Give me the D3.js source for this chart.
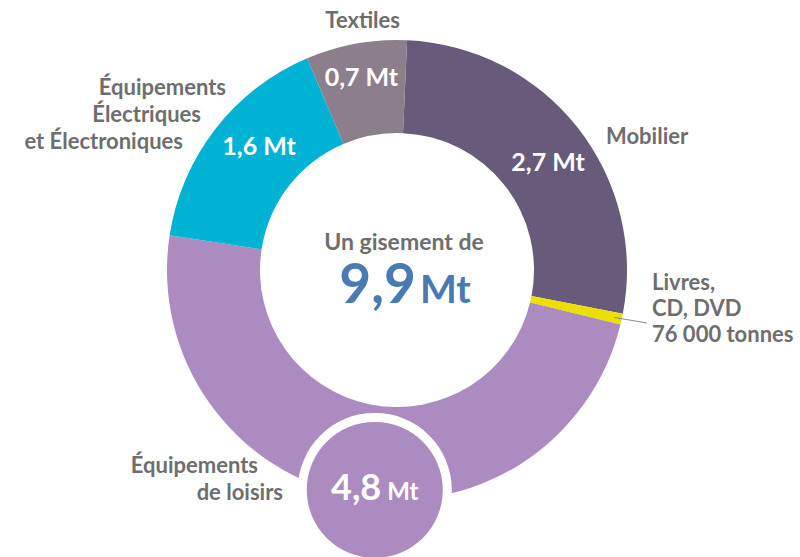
<!DOCTYPE html>
<html lang="fr">
<head>
<meta charset="UTF-8">
<title>Gisement</title>
<script src="https://d3js.org/d3.v7.min.js"></script>
<style>
  body { margin: 0; background: #fff; }
  text { font-family: Lato, "Open Sans", sans-serif; font-weight: 700; }
</style>
</head>
<body>
<div id="chart"></div>
<script>
// data
var categories = ["Mobilier", "Livres, CD, DVD", "Équipements de loisirs", "Équipements Électriques et Électroniques", "Textiles"];
var values = [2.7, 0.076, 4.8, 1.6, 0.7];
var valueLabels = ["2,7 Mt", "", "4,8", "1,6 Mt", "0,7 Mt"];
var colors = ["#685a7b", "#ede000", "#ab8bc0", "#00b2d3", "#8b7f8c"];
var totalLabel = "9,9";

// layout
var width = 800, height = 557;
var cx = 397, cy = 270;
var inner = 137, outer = 230;
var start = 0.044;
var grey = "#6e6e6e";

var svg = d3.select("#chart").append("svg")
    .attr("width", width)
    .attr("height", height);

var g = svg.append("g").attr("transform", "translate(" + cx + "," + cy + ")");

var pie = d3.pie().sort(null).startAngle(start).endAngle(start + 2 * Math.PI);
var arcs = pie(values);
var arc = d3.arc().innerRadius(inner).outerRadius(outer);

g.selectAll("path.slice")
    .data(arcs)
    .enter().append("path")
    .attr("class", "slice")
    .attr("d", arc)
    .attr("fill", function(d, i) { return colors[i]; });

// polar helper (angle clockwise from top)
function polar(a, r) { return [r * Math.sin(a), -r * Math.cos(a)]; }

// value labels on the ring (nudges per slice)
var nudge = [[7, 5], null, null, [7, -12], [-3, -13]];
arcs.forEach(function(d, i) {
    if (!nudge[i]) return;
    var c = arc.centroid(d);
    g.append("text")
        .attr("x", c[0] + nudge[i][0])
        .attr("y", c[1] + nudge[i][1])
        .attr("text-anchor", "middle")
        .attr("dominant-baseline", "central")
        .attr("font-size", 25)
        .attr("fill", "#fff")
        .text(valueLabels[i]);
});

// bubble for loisirs
var big = arcs[2];
var bAngle = big.startAngle + (big.endAngle - big.startAngle) * 0.469;
var bp = polar(bAngle, 221);
g.append("circle").attr("cx", bp[0]).attr("cy", bp[1]).attr("r", 77).attr("fill", "#fff");
g.append("circle").attr("cx", bp[0]).attr("cy", bp[1]).attr("r", 68).attr("fill", colors[2]);
var bt = g.append("text")
    .attr("x", bp[0])
    .attr("y", bp[1] + 10)
    .attr("text-anchor", "middle")
    .attr("fill", "#fff");
bt.append("tspan").attr("font-size", 36).text(valueLabels[2]);
bt.append("tspan").attr("font-size", 24).attr("dx", 6).text("Mt");

// center text
g.append("text")
    .attr("x", 7).attr("y", -20)
    .attr("text-anchor", "middle")
    .attr("font-size", 23)
    .attr("fill", grey)
    .text("Un gisement de");
var tt = g.append("text")
    .attr("x", 8).attr("y", 33)
    .attr("text-anchor", "middle")
    .attr("fill", "#4a7ab2");
tt.append("tspan").attr("font-size", 55).text(totalLabel);
tt.append("tspan").attr("font-size", 39).attr("dx", 4).text("Mt");

// leader line for small slice
var ys = arcs[1];
var lp = polar((ys.startAngle + ys.endAngle) / 2, 222);
g.append("line")
    .attr("x1", lp[0]).attr("y1", lp[1])
    .attr("x2", 647 - cx).attr("y2", 323 - cy)
    .attr("stroke", "#888")
    .attr("stroke-width", 1);

// category labels outside
var outLabels = [
    {lines: ["Mobilier"], x: 606, y: 144, anchor: "start"},
    {lines: ["Livres,", "CD, DVD", "76 000 tonnes"], x: 652, y: 290, anchor: "start"},
    {lines: ["Équipements", "de loisirs"], x: [258, 283], y: 473, anchor: "end"},
    {lines: ["Équipements", "Électriques", "et Électroniques"], x: [226, 201, 183], y: 95, anchor: "end"},
    {lines: ["Textiles"], x: 400, y: 28, anchor: "end"}
];
var lineGap = [0, 26, 27, 27, 0];

outLabels.forEach(function(o, i) {
    var t = svg.append("text")
        .attr("text-anchor", o.anchor)
        .attr("font-size", 22)
        .attr("fill", grey);
    o.lines.forEach(function(s, k) {
        t.append("tspan")
            .attr("x", Array.isArray(o.x) ? o.x[k] : o.x)
            .attr("y", o.y + k * lineGap[i])
            .text(s);
    });
});
</script>
</body>
</html>
